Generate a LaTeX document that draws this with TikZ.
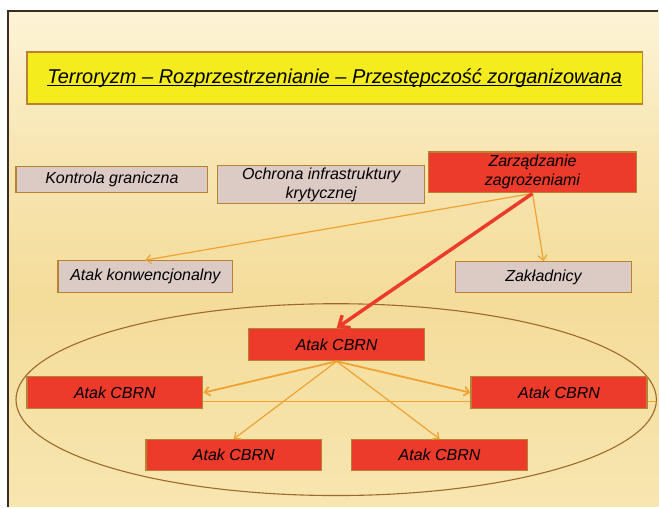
\documentclass[tikz,border=0pt]{standalone}
\usepackage{fontspec}
\setmainfont{Liberation Sans}
\setsansfont{Liberation Sans}
\usepackage{xcolor}
\usepackage{tikz}
\usetikzlibrary{shapes.geometric, arrows.meta, positioning, calc}
\definecolor{slidetop}{HTML}{FDF4D6}
\definecolor{slidemid}{HTML}{F4DC9A}
\definecolor{slidebottom}{HTML}{F7E6B0}
\definecolor{framedark}{HTML}{3B2B22}
\definecolor{titleyellow}{HTML}{F4EC1C}
\definecolor{boxborder}{HTML}{B88232}
\definecolor{greyfill}{HTML}{DCCAC5}
\definecolor{alertred}{HTML}{EC3A2B}
\definecolor{arroworange}{HTML}{F0A232}
\definecolor{zonebrown}{HTML}{A0682A}
\newcommand{\titleline}[1]{\setbox0\hbox{#1}\rlap{\rule[-3pt]{\wd0}{1.1pt}}\box0}

\begin{document}
\begin{tikzpicture}[x=1pt, y=-1pt, font=\sffamily\itshape,
    box/.style={rectangle, draw=boxborder, line width=1.3pt, inner sep=0pt, align=center,
      font=\sffamily\itshape\fontsize{16}{19}\selectfont},
    greybox/.style={box, fill=greyfill},
    redbox/.style={box, fill=alertred, minimum width=176pt, minimum height=32pt},
    conn/.style={-{Straight Barb[length=5pt, width=9pt]}, line width=1.2pt, arroworange},
    threat/.style={-{Straight Barb[length=9pt, width=15pt]}, line width=3.5pt, alertred}]

    % slide background
    \fill[white] (0,0) rectangle (659,507);
    \shade[top color=slidetop, bottom color=slidemid, middle color=slidemid!60!slidetop]
      (8,11) rectangle (659,300);
    \shade[top color=slidemid, bottom color=slidebottom] (8,300) rectangle (659,507);
    \draw[framedark, line width=1.2pt] (8,507) -- (8,11) -- (659,11);

    % title
    \node (title) [box, fill=titleyellow, minimum width=616pt, minimum height=52pt,
      font=\sffamily\itshape\fontsize{20}{24}\selectfont] at (335,78)
      {\titleline{Terroryzm -- Rozprzestrzenianie -- Przestępczość zorganizowana}};

    % upper row
    \node (border) [greybox, minimum width=192pt, minimum height=26pt] at (112,180) {Kontrola graniczna};
    \node (infra) [greybox, minimum width=207pt, minimum height=38pt] at (321.5,185)
      {Ochrona infrastruktury\\krytycznej};
    \node (mgmt) [box, fill=alertred, minimum width=208pt, minimum height=41pt] at (533,172.5)
      {Zarządzanie\\zagrożeniami};

    % attack types
    \node (conv) [greybox, minimum width=175pt, minimum height=32pt] at (145.5,277) {Atak konwencjonalny};
    \node (hostage) [greybox, minimum width=176pt, minimum height=31pt] at (544,277.5) {Zakładnicy};

    % CBRN zone
    \node (zone) [ellipse, draw=zonebrown, line width=1.1pt, inner sep=0pt,
      minimum width=641pt, minimum height=192pt] at (336.5,400) {};
    \coordinate (lineL) at (203,402);
    \coordinate (lineR) at (657,402);
    \draw[arroworange, line width=0.6pt] (lineL) -- (lineR);

    \node (cbrn) [redbox] at (337,345) {Atak CBRN};
    \node (cbrnL) [redbox] at (115,393) {Atak CBRN};
    \node (cbrnR) [redbox] at (559.5,393) {Atak CBRN};
    \node (cbrnBL) [redbox, minimum height=31pt] at (234,455.5) {Atak CBRN};
    \node (cbrnBR) [redbox, minimum height=31pt] at (440,455.5) {Atak CBRN};

    % connections
    \draw[conn] (mgmt.south) -- (conv.north);
    \draw[conn] (mgmt.south) -- (hostage.north);
    \draw[threat] (mgmt.south) -- (cbrn.north);

    \draw[conn, line width=1.8pt] (cbrn.south) -- (cbrnL.east);
    \draw[conn, line width=1.8pt] (cbrn.south) -- (cbrnR.west);
    \draw[conn] (cbrn.south) -- (cbrnBL.north);
    \draw[conn] (cbrn.south) -- (cbrnBR.north);
\end{tikzpicture}
\end{document}
